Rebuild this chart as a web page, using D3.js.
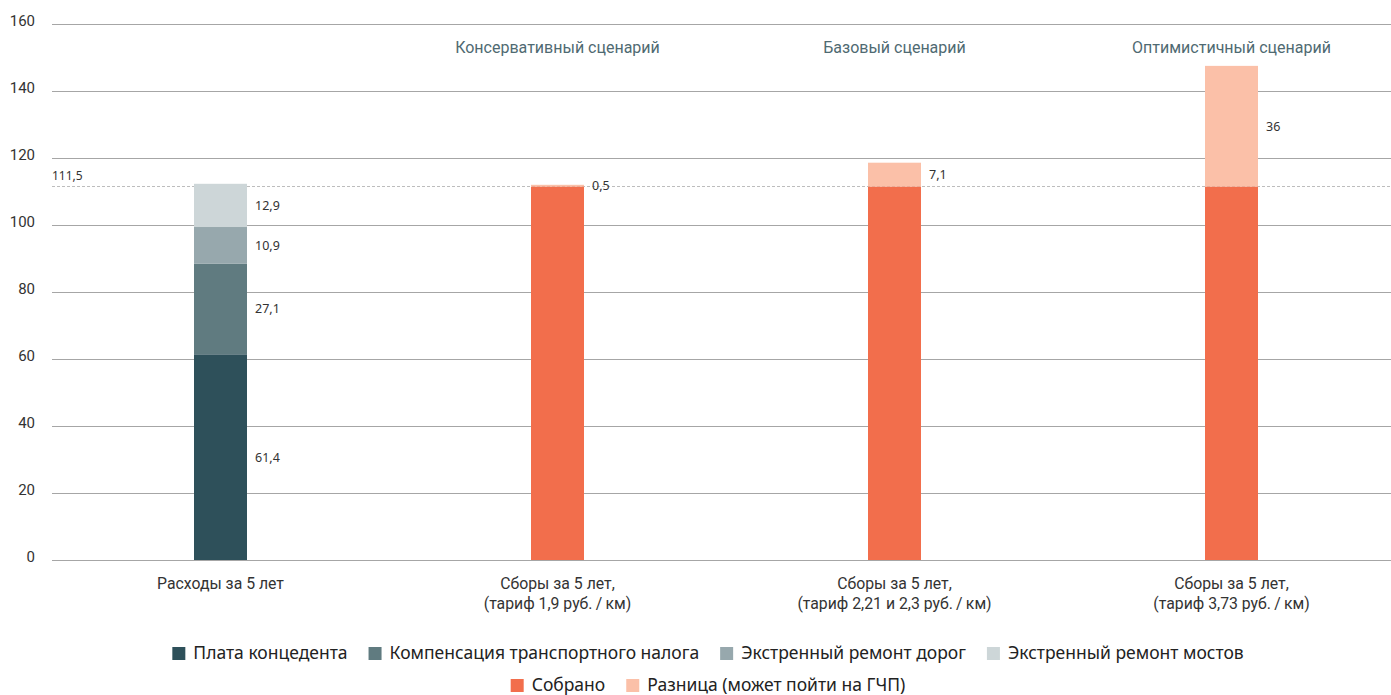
<!DOCTYPE html>
<html>
<head>
<meta charset="utf-8">
<script src="https://cdn.jsdelivr.net/npm/d3@7"></script>
<style>
  html, body { margin: 0; padding: 0; background: #fff; }
  svg { display: block; }
</style>
</head>
<body>
<svg id="chart" width="1391" height="695"></svg>
<script>
// Categories along the x axis (two-line labels split by "\n")
const categories = [
  "Расходы за 5 лет",
  "Сборы за 5 лет,\n(тариф 1,9 руб.\u2009/\u2009км)",
  "Сборы за 5 лет,\n(тариф 2,21 и 2,3 руб.\u2009/\u2009км)",
  "Сборы за 5 лет,\n(тариф 3,73 руб.\u2009/\u2009км)"
];
const scenarioTitles = ["", "Консервативный сценарий", "Базовый сценарий", "Оптимистичный сценарий"];

// Expense components (first column only)
const expenseSeries = ["Плата концедента", "Компенсация транспортного налога", "Экстренный ремонт дорог", "Экстренный ремонт мостов"];
const expenseValues = [61.4, 27.1, 10.9, 12.9];
const expenseColors = ["#2e505a", "#607b80", "#97a8ad", "#cdd6d8"];

// Revenue columns: collected + difference
const revenueSeries = ["Собрано", "Разница (может пойти на ГЧП)"];
const collected = [111.5, 111.5, 111.5];
const difference = [0.5, 7.1, 36];
const revenueColors = ["#f26e4c", "#fbc0a8"];

const referenceValue = 111.5;
const yTicks = [0, 20, 40, 60, 80, 100, 120, 140, 160];

const svg = d3.select("#chart");
const plotLeft = 52, plotRight = 1400, plotTop = 24, plotBottom = 560;

const x = d3.scaleBand().domain(categories).range([plotLeft, plotRight]).paddingInner(0).paddingOuter(0);
const y = d3.scaleLinear().domain([0, 160]).range([plotBottom, plotTop]);
const barW = 53;
const fmt = v => String(v).replace(".", ",");

// Grid lines and y tick labels
const yAxis = d3.axisLeft(y).tickValues(yTicks).tickSize(-(1391 - plotLeft)).tickFormat(d => d);
const ga = svg.append("g").attr("transform", `translate(${plotLeft},0)`).call(yAxis);
ga.select(".domain").remove();
ga.selectAll(".tick line").attr("stroke", "#a6a6a6").attr("stroke-width", 1);
ga.selectAll(".tick text")
  .attr("x", -17).attr("y", 1).attr("dy", 0)
  .attr("font-family", "Roboto, sans-serif").attr("font-size", 15).attr("fill", "#333");

// Dotted reference line
svg.append("line")
  .attr("x1", plotLeft).attr("x2", 1391)
  .attr("y1", Math.round(y(referenceValue)) + 0.5).attr("y2", Math.round(y(referenceValue)) + 0.5)
  .attr("stroke", "#bdbdbd").attr("stroke-dasharray", "3,2");
svg.append("text")
  .attr("x", plotLeft).attr("y", y(referenceValue) - 6)
  .attr("font-family", "'Noto Sans', sans-serif").attr("font-size", 12).attr("fill", "#333")
  .text(fmt(referenceValue));

const labelFont = "'Noto Sans', sans-serif";

// Expense stacked column
const c0 = x(categories[0]) + x.bandwidth() / 2;
let acc = 0;
expenseValues.forEach((v, i) => {
  const y0 = acc, y1 = acc + v;
  acc = y1;
  svg.append("rect")
    .attr("x", c0 - barW / 2).attr("width", barW)
    .attr("y", y(y1)).attr("height", y(y0) - y(y1))
    .attr("fill", expenseColors[i]);
  svg.append("text")
    .attr("x", c0 + barW / 2 + 8).attr("y", (y(y0) + y(y1)) / 2).attr("dy", "0.35em")
    .attr("font-family", labelFont).attr("font-size", 12.5).attr("fill", "#333")
    .text(fmt(v));
});

// Revenue stacked columns
collected.forEach((c, i) => {
  const cat = categories[i + 1];
  const cx = x(cat) + x.bandwidth() / 2;
  svg.append("rect")
    .attr("x", cx - barW / 2).attr("width", barW)
    .attr("y", y(c)).attr("height", y(0) - y(c))
    .attr("fill", revenueColors[0]);
  const d = difference[i];
  svg.append("rect")
    .attr("x", cx - barW / 2).attr("width", barW)
    .attr("y", y(c + d)).attr("height", y(c) - y(c + d))
    .attr("fill", revenueColors[1]);
  svg.append("text")
    .attr("x", cx + barW / 2 + 8).attr("y", (y(c) + y(c + d)) / 2).attr("dy", "0.35em")
    .attr("font-family", labelFont).attr("font-size", 12.5).attr("fill", "#333")
    .text(fmt(d));
});

// Scenario titles
scenarioTitles.forEach((t, i) => {
  if (!t) return;
  svg.append("text")
    .attr("x", x(categories[i]) + x.bandwidth() / 2).attr("y", 52.5)
    .attr("text-anchor", "middle")
    .attr("font-family", "Roboto, sans-serif").attr("font-size", 16).attr("fill", "#4f6a72")
    .text(t);
});

// Category labels
categories.forEach(cat => {
  const cx = x(cat) + x.bandwidth() / 2;
  const t = svg.append("text").attr("text-anchor", "middle")
    .attr("font-family", "Roboto, sans-serif").attr("font-size", 15.8).attr("fill", "#333");
  cat.split("\n").forEach((line, j) => {
    t.append("tspan").attr("x", cx).attr("y", 588.5 + j * 20).text(line);
  });
});

// Legend
function legendRow(items, colors, yPos) {
  const g = svg.append("g");
  let xPos = 0;
  items.forEach((name, i) => {
    const item = g.append("g").attr("transform", `translate(${xPos},0)`);
    item.append("rect").attr("x", 0).attr("y", -12).attr("width", 13).attr("height", 13).attr("fill", colors[i]);
    const txt = item.append("text").attr("x", 21).attr("y", 0)
      .attr("font-family", "'Noto Sans', sans-serif").attr("font-size", 17.5).attr("fill", "#222")
      .text(name);
    xPos += 21 + txt.node().getComputedTextLength() + 21;
  });
  const w = xPos - 21;
  g.attr("transform", `translate(${708 - w / 2},${yPos})`);
}
legendRow(expenseSeries, expenseColors, 659);
legendRow(revenueSeries, revenueColors, 691);
</script>
</body>
</html>
